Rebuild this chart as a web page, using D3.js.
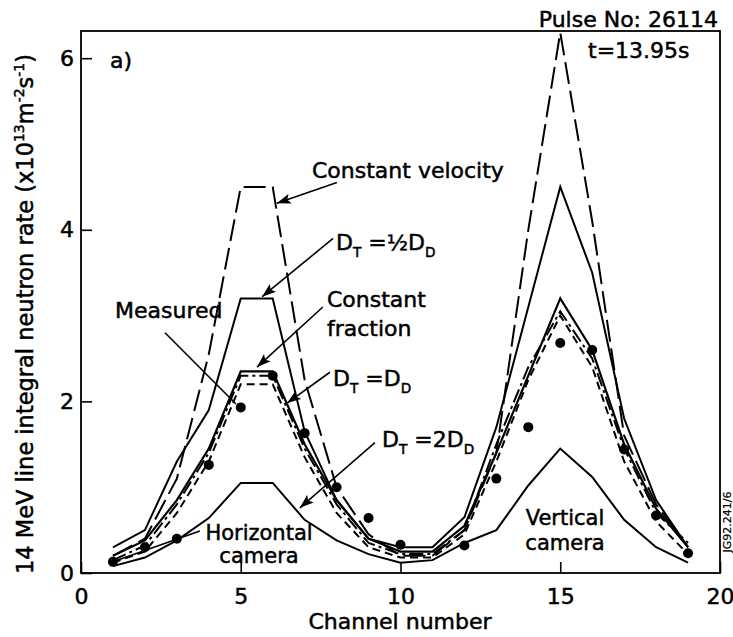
<!DOCTYPE html>
<html>
<head>
<meta charset="utf-8">
<script src="https://cdn.jsdelivr.net/npm/d3@7/dist/d3.min.js"></script>
<style>
  body { margin: 0; background: #fff; }
  text { font-family: "DejaVu Sans", "Liberation Sans", sans-serif; fill: #000; stroke: #000; stroke-width: 0.5px; }
</style>
</head>
<body>
<svg id="chart" width="733" height="637"></svg>
<script>
// Channel numbers of the neutron camera (1-10 horizontal, 11-19 vertical)
const channels = [1, 2, 3, 4, 5, 6, 7, 8, 9, 10, 11, 12, 13, 14, 15, 16, 17, 18, 19];

// Simulated line-integral 14 MeV neutron rates (x10^13 m^-2 s^-1)
const constVelocity = [0.2, 0.4, 1.1, 2.55, 4.5, 4.5, 2.25, 1.0, 0.45, 0.2, 0.2, 0.5, 1.4, 4.0, 6.3, 4.1, 1.6, 0.8, 0.3];
const halfDD        = [0.3, 0.5, 1.3, 1.9, 3.2, 3.2, 1.65, 0.85, 0.4, 0.3, 0.3, 0.65, 1.7, 3.1, 4.5, 3.5, 1.8, 0.85, 0.3];
const constFraction = [0.2, 0.38, 0.85, 1.45, 2.35, 2.35, 1.5, 0.85, 0.4, 0.25, 0.25, 0.55, 1.4, 2.3, 3.2, 2.6, 1.5, 0.75, 0.3];
const equalDD       = [0.15, 0.32, 0.8, 1.4, 2.3, 2.3, 1.45, 0.8, 0.35, 0.22, 0.22, 0.5, 1.5, 2.4, 3.05, 2.5, 1.45, 0.7, 0.35];
const shortDashed   = [0.12, 0.25, 0.7, 1.3, 2.2, 2.2, 1.35, 0.7, 0.3, 0.18, 0.18, 0.45, 1.3, 2.25, 3.0, 2.4, 1.3, 0.6, 0.22];
const twiceDD       = [0.08, 0.18, 0.38, 0.64, 1.05, 1.05, 0.62, 0.38, 0.22, 0.12, 0.15, 0.35, 0.5, 1.02, 1.45, 1.12, 0.62, 0.3, 0.12];

// Measured rates (channel 11 has no measurement)
const measuredChannels = [1, 2, 3, 4, 5, 6, 7, 8, 9, 10, 12, 13, 14, 15, 16, 17, 18, 19];
const measuredValues   = [0.13, 0.3, 0.4, 1.26, 1.93, 2.3, 1.63, 1.0, 0.64, 0.33, 0.32, 1.1, 1.7, 2.68, 2.6, 1.44, 0.67, 0.23];

// Axis ticks
const xTicks = [0, 5, 10, 15, 20];
const yTicks = [0, 2, 4, 6];

const svg = d3.select("#chart");
const x = d3.scaleLinear().domain([0, 20]).range([81, 720]);
const y = d3.scaleLinear().domain([0, 6.317]).range([573, 31]);

// Arrowhead
svg.append("defs").append("marker")
  .attr("id", "arrow").attr("viewBox", "0 0 14 10")
  .attr("refX", 14).attr("refY", 5)
  .attr("markerWidth", 14).attr("markerHeight", 10)
  .attr("markerUnits", "userSpaceOnUse")
  .attr("orient", "auto")
  .append("path").attr("d", "M0,0 L14,5 L0,10 L3,5 Z").attr("fill", "#000");

// Axes with inward ticks
const gx = svg.append("g").attr("transform", `translate(0,${y(0)})`)
  .call(d3.axisBottom(x).tickValues(xTicks).tickFormat(d3.format("d"))
    .tickSize(-11).tickPadding(15).tickSizeOuter(0));
const gy = svg.append("g").attr("transform", `translate(${x(0)},0)`)
  .call(d3.axisLeft(y).tickValues(yTicks).tickFormat(d3.format("d"))
    .tickSize(-11).tickPadding(7).tickSizeOuter(0));
[gx, gy].forEach(g => {
  g.select(".domain").remove();
  g.selectAll(".tick line").attr("stroke", "#000").attr("stroke-width", 1.6);
  g.selectAll(".tick text").style("font-family", "DejaVu Sans").style("font-size", "22px")
    .attr("fill", "#000").attr("stroke", "#000").attr("stroke-width", 0.7);
});

// Frame
svg.append("rect")
  .attr("x", x(0)).attr("y", y(6.317))
  .attr("width", x(20) - x(0)).attr("height", y(0) - y(6.317))
  .attr("fill", "none").attr("stroke", "#000").attr("stroke-width", 1.8);

// Model curves
const line = d3.line().x((d, i) => x(channels[i])).y(d => y(d));
const curves = [
  { values: constVelocity, dash: "22,7", width: 2 },
  { values: halfDD,        dash: null,   width: 2 },
  { values: constFraction, dash: null,   width: 2.2 },
  { values: equalDD,       dash: "14,4,3,4", width: 2 },
  { values: shortDashed,   dash: "8,5",  width: 2 },
  { values: twiceDD,       dash: null,   width: 2 }
];
svg.append("g").selectAll("path").data(curves).join("path")
  .attr("d", c => line(c.values))
  .attr("fill", "none").attr("stroke", "#000")
  .attr("stroke-width", c => c.width)
  .attr("stroke-linejoin", "miter")
  .attr("stroke-dasharray", c => c.dash);

// Measured points
svg.append("g").selectAll("circle").data(measuredValues).join("circle")
  .attr("cx", (d, i) => x(measuredChannels[i])).attr("cy", d => y(d))
  .attr("r", 5).attr("fill", "#000");

// Pointer lines (data coordinates)
const pointers = [
  { from: [8.01, 4.55], to: [6.13, 4.31], head: true },
  { from: [7.89, 3.90], to: [5.67, 3.22], head: true },
  { from: [7.57, 3.10], to: [5.51, 2.40], head: true },
  { from: [7.79, 2.34], to: [6.45, 1.98], head: true },
  { from: [9.20, 1.52], to: [6.85, 0.76], head: true },
  { from: [2.63, 2.80], to: [4.85, 1.97], head: false },
  { from: [3.72, 0.49], to: [1.00, 0.13], head: false }
];
svg.append("g").selectAll("line").data(pointers).join("line")
  .attr("x1", p => x(p.from[0])).attr("y1", p => y(p.from[1]))
  .attr("x2", p => x(p.to[0])).attr("y2", p => y(p.to[1]))
  .attr("stroke", "#000").attr("stroke-width", 1.6)
  .attr("marker-end", p => p.head ? "url(#arrow)" : null);

// Text helper with optional sub/superscripts
function label(xp, yp, parts, size, anchor) {
  const t = svg.append("text").attr("x", xp).attr("y", yp)
    .style("font-size", size + "px").attr("text-anchor", anchor || "start");
  let shift = 0;
  parts.forEach(p => {
    const s = t.append("tspan").text(p.t);
    let target = 0;
    if (p.sub) { target = size * 0.3; s.style("font-size", (size * 0.62) + "px"); }
    if (p.sup) { target = -size * 0.42; s.style("font-size", (size * 0.62) + "px"); }
    s.attr("dy", target - shift);
    shift = target;
  });
  return t;
}

label(110, 68, [{ t: "a)" }], 22);
label(718, 27, [{ t: "Pulse No: 26114" }], 22, "end");
label(588, 58, [{ t: "t=13.95s" }], 22);
label(312, 178, [{ t: "Constant velocity" }], 22);
label(336, 250, [{ t: "D" }, { t: "T", sub: true }, { t: " =½D" }, { t: "D", sub: true }], 22);
label(327, 307, [{ t: "Constant" }], 22);
label(327, 336, [{ t: "fraction" }], 22);
label(115, 318, [{ t: "Measured" }], 22);
label(333, 386, [{ t: "D" }, { t: "T", sub: true }, { t: " =D" }, { t: "D", sub: true }], 22);
label(382, 447, [{ t: "D" }, { t: "T", sub: true }, { t: " =2D" }, { t: "D", sub: true }], 22);
label(259, 540, [{ t: "Horizontal" }], 21, "middle");
label(259, 563, [{ t: "camera" }], 21, "middle");
label(565, 525, [{ t: "Vertical" }], 21, "middle");
label(565, 550, [{ t: "camera" }], 21, "middle");

// Axis titles
label(400, 629, [{ t: "Channel number" }], 22, "middle");
const yl = label(0, 0, [
  { t: "14 MeV line integral neutron rate (x10" }, { t: "13", sup: true }, { t: "m" },
  { t: "-2", sup: true }, { t: "s" }, { t: "-1", sup: true }, { t: ")" }
], 22.5, "middle");
yl.attr("transform", "translate(33,314) rotate(-90)");

// Figure reference
svg.append("text").attr("transform", "translate(731,522) rotate(-90)")
  .attr("text-anchor", "middle").style("font-size", "11px").style("stroke-width", "0.2px")
  .text("JG92.241/6");
</script>
</body>
</html>
